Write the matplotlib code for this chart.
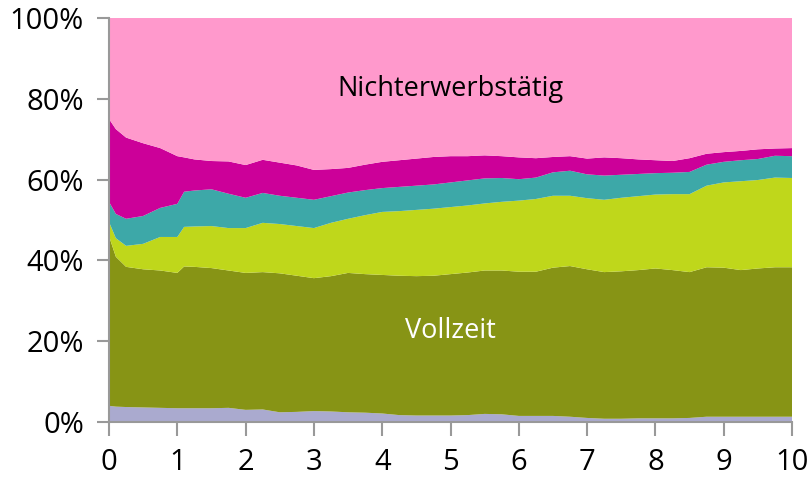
import numpy as np
import matplotlib
matplotlib.use('Agg')
import matplotlib.pyplot as plt
from matplotlib.ticker import PercentFormatter

plt.rcParams['font.family'] = ['Open Sans', 'DejaVu Sans']

# Sample positions along the x axis
x = [0, 0.1, 0.25, 0.5, 0.75, 1.0, 1.1, 1.25, 1.5, 1.75, 2.0, 2.25, 2.5, 2.75,
     3.0, 3.25, 3.5, 3.75, 4.0, 4.25, 4.5, 4.75, 5.0, 5.25, 5.5, 5.75, 6.0,
     6.25, 6.5, 6.75, 7.0, 7.25, 7.5, 7.75, 8.0, 8.25, 8.5, 8.75, 9.0, 9.25,
     9.5, 9.75, 10.0]

# Layer shares in percent (bottom to top, top layer = rest to 100%)
lavender = [4.0, 3.8, 3.7, 3.6, 3.5, 3.4, 3.4, 3.4, 3.4, 3.5, 3.0, 3.1, 2.4, 2.5,
            2.7, 2.6, 2.4, 2.3, 2.1, 1.7, 1.6, 1.6, 1.6, 1.7, 2.0, 1.9, 1.5,
            1.5, 1.5, 1.3, 1.0, 0.8, 0.8, 0.9, 0.9, 0.9, 1.0, 1.3, 1.3, 1.3,
            1.3, 1.3, 1.3]
vollzeit = [42.0, 37.1, 34.7, 34.2, 34.0, 33.5, 35.1, 35.0, 34.7, 34.0, 33.9, 34.0,
            34.4, 33.7, 32.9, 33.5, 34.5, 34.3, 34.3, 34.5, 34.5, 34.6, 35.0,
            35.3, 35.5, 35.6, 35.7, 35.7, 36.7, 37.3, 36.8, 36.3, 36.5, 36.7,
            37.1, 36.7, 36.1, 37.0, 36.9, 36.3, 36.7, 37.0, 37.0]
lime = [3.5, 4.6, 5.2, 6.3, 8.3, 8.9, 9.8, 10.0, 10.4, 10.5, 11.1, 12.2, 12.2,
        12.3, 12.4, 13.2, 13.4, 14.6, 15.6, 16.0, 16.4, 16.6, 16.6, 16.6, 16.6,
        17.0, 17.6, 18.0, 17.8, 17.4, 17.6, 17.9, 18.2, 18.3, 18.3, 18.8, 19.3,
        20.2, 21.1, 22.0, 21.9, 22.2, 22.1]
teal = [5.0, 6.0, 6.7, 6.9, 7.2, 8.2, 8.7, 8.9, 9.1, 8.5, 7.5, 7.4, 7.0, 7.0,
        7.0, 6.6, 6.5, 6.2, 5.9, 6.0, 6.0, 6.0, 6.1, 6.2, 6.2, 5.9, 5.3, 5.3,
        5.8, 6.2, 5.9, 6.0, 5.7, 5.5, 5.3, 5.3, 5.5, 5.2, 5.1, 5.2, 5.2, 5.4,
        5.4]
magenta = [20.5, 21.0, 20.1, 18.0, 14.8, 11.8, 8.5, 7.7, 7.0, 8.0, 8.1, 8.2, 8.2,
           8.0, 7.4, 6.7, 6.1, 6.3, 6.5, 6.6, 6.7, 6.8, 6.5, 6.0, 5.7, 5.4, 5.4,
           4.8, 3.8, 3.6, 3.9, 4.5, 4.1, 3.6, 3.2, 2.9, 3.4, 2.7, 2.4, 2.3, 2.4,
           1.8, 2.0]

layers = np.array([lavender, vollzeit, lime, teal, magenta])
nichterwerb = 100 - layers.sum(axis=0)

colors = ['#AAAACF', '#879415', '#BFD71B', '#3DA8A8', '#CC0099', '#FF99CC']

fig = plt.figure(figsize=(8.1, 4.78), dpi=100)
ax = fig.add_axes([0.1346, 0.1172, 0.8432, 0.8451])

ax.stackplot(x, *layers, nichterwerb, colors=colors, lw=0)

ax.set_xlim(0, 10)
ax.set_ylim(0, 100)
ax.set_xticks(range(0, 11))
ax.set_yticks(range(0, 101, 20))
ax.yaxis.set_major_formatter(PercentFormatter(decimals=0))

for s in ['top', 'right']:
    ax.spines[s].set_visible(False)
for s in ['left', 'bottom']:
    ax.spines[s].set_color('#999999')
    ax.spines[s].set_linewidth(1.5)
ax.tick_params(axis='both', colors='#999999', labelcolor='black',
               labelsize=21, width=1.5)
ax.tick_params(axis='y', length=9, pad=9)
ax.tick_params(axis='x', length=10, pad=9)

ax.text(5, 82.5, 'Nichterwerbstätig', ha='center', va='center',
        fontsize=19.5, color='black')
ax.text(5, 22.5, 'Vollzeit', ha='center', va='center',
        fontsize=19.5, color='white')

fig.savefig('out.png', dpi=100)
